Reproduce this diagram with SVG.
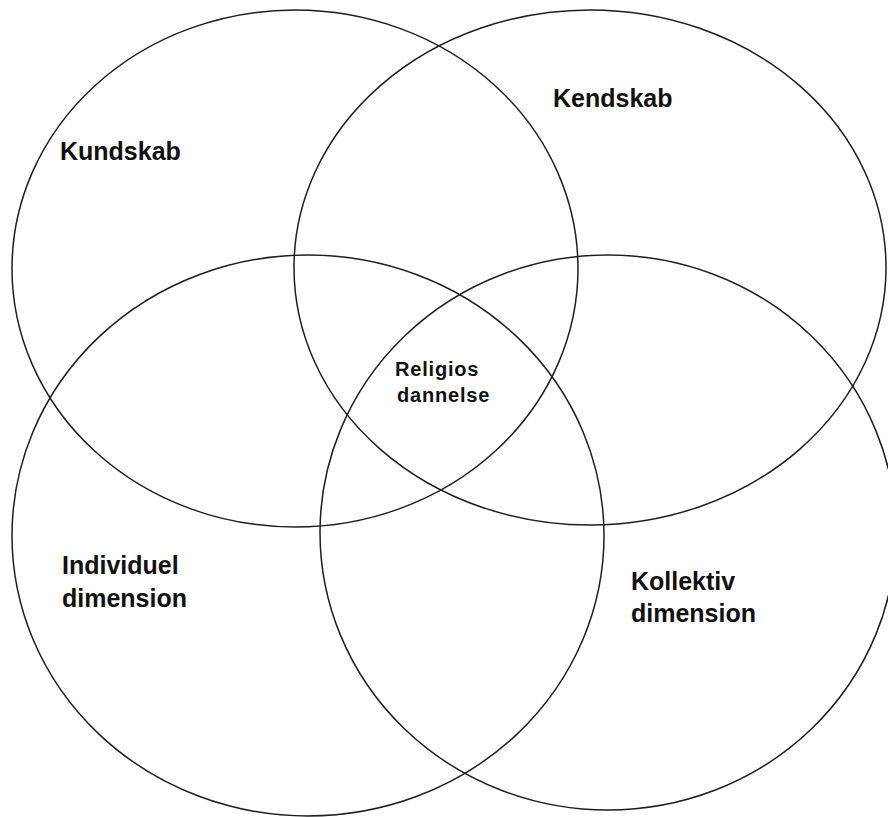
<svg xmlns="http://www.w3.org/2000/svg" width="888" height="817" viewBox="0 0 888 817">
<style>
.c{fill:none;stroke:#1e1e1e;stroke-width:1.5}
.t{font-family:"Liberation Sans",Arial,sans-serif;font-weight:bold;font-size:25px;fill:#111}
.s{font-size:20px;letter-spacing:0.8px}
</style>
<rect width="888" height="817" fill="#fff"/>
<g id="kundskab">
<ellipse class="c" cx="295" cy="268.5" rx="283" ry="258.5"/>
<text class="t" x="60" y="160">Kundskab</text>
</g>
<g id="kendskab">
<ellipse class="c" cx="590" cy="267.5" rx="296" ry="257.5"/>
<text class="t" x="553" y="107">Kendskab</text>
</g>
<g id="individuel">
<ellipse class="c" cx="308" cy="535.5" rx="296" ry="280.5"/>
<text class="t" x="62" y="574">Individuel</text>
<text class="t" x="62" y="607">dimension</text>
</g>
<g id="kollektiv">
<ellipse class="c" cx="608" cy="532.5" rx="288" ry="277.5"/>
<text class="t" x="631" y="590">Kollektiv</text>
<text class="t" x="631" y="622">dimension</text>
</g>
<g id="religios">
<text class="t s" x="395" y="376">Religios</text>
<text class="t s" x="397" y="402">dannelse</text>
</g>
<g id="connectors"/>
</svg>
